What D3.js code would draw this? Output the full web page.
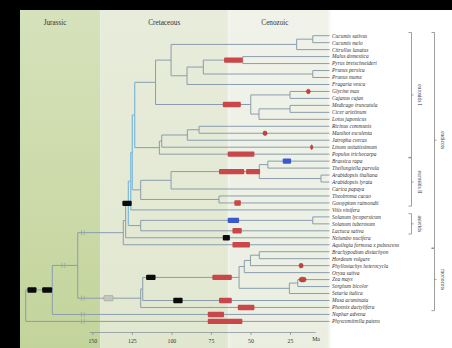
<!DOCTYPE html>
<html><head><meta charset="utf-8">
<script src="https://cdn.jsdelivr.net/npm/d3@7"></script>
<style>body{margin:0;background:#000;}svg{display:block}</style>
</head><body><svg id="c" width="452" height="348"></svg>
<script>
// ---------------- DATA ----------------
const species = ["Cucumis sativus","Cucumis melo","Citrullus lanatus","Malus domestica","Pyrus bretschneideri","Prunus persica","Prunus mume","Fragaria vesca","Glycine max","Cajanus cajan","Medicago truncatula","Cicer arietinum","Lotus japonicus","Ricinus communis","Manihot esculenta","Jatropha curcas","Linum usitatissimum","Populus trichocarpa","Brassica rapa","Thellungiella parvula","Arabidopsis thaliana","Arabidopsis lyrata","Carica papaya","Theobroma cacao","Gossypium raimondii","Vitis vinifera","Solanum lycopersicum","Solanum tuberosum","Lactuca sativa","Nelumbo nucifera","Aquilegia formosa x pubescens","Brachypodium distachyon","Hordeum vulgare","Phyllostachys heterocycla","Oryza sativa","Zea mays","Sorghum bicolor","Setaria italica","Musa acuminata","Phoenix dactylifera","Nuphar advena","Physcomitrella patens"];
const leafParent = ["Cucumis","Cucumis","Cuc","MdPb","MdPb","Prunus","Prunus","Ros","GmCc","GmCc","MtCa","MtCa","MtLj","RcMe","RcMe","Malp3","Malp2","Malp","BrTp","BrTp","AtAl","AtAl","BraCp","TcGr","TcGr","RosVv","Sol","Sol","Ast","EudNn","Eud","BdHv","BdHv","BEP2","BEP","ZmSb","ZmSb","PAC","PoMu","Mono","N1","root"];
// internal nodes: [id, parent, age (Ma)]
const nodes = [
 ["root",null,192.1],["N1","root",175.3],["Angio","N1",159.2],
 ["Eud","Angio",130.4],["EudNn","Eud",128.9],["Core","EudNn",127.2],["RosVv","Core",125.7],["Rosids","RosVv",124.7],
 ["FabMal","Rosids",123.2],["Fabids","FabMal",110],["CucRos","Fabids",100.2],["Cuc","CucRos",20.8],["Cucumis","Cuc",10.6],
 ["Ros","CucRos",90.1],["RosA","Ros",79.8],["MdPb","RosA",54.9],["Prunus","RosA",10.6],
 ["Fab","Fabids",49.8],["GmCc","Fab",25],["MtLj","Fab",44.6],["MtCa","MtLj",25],
 ["Malp","FabMal",107.6],["Malp2","Malp",106.1],["Malp3","Malp2",89.9],["RcMe","Malp3",82.5],
 ["Malv","Rosids",119.4],["BraCp","Malv",100.2],["Bra","BraCp",44.4],["BrTp","Bra",39],["AtAl","Bra",5.4],["TcGr","Malv",69.9],
 ["Ast","Core",119.4],["Sol","Ast",10.6],
 ["Mono","Angio",119.4],["PoMu","Mono",118.1],["Grass","PoMu",57.2],["BEP","Grass",53.9],["BEP2","BEP",50],["BdHv","BEP2",44.4],["PAC","Grass",25.4],["ZmSb","PAC",20.1]
];
// events on branches: [target, fromMa, toMa, kind]
const events = [
 ["MdPb",66.7,54.9,"red"],["Fab",67.5,56.1,"red"],["Populus trichocarpa",64.4,47.5,"red"],
 ["Bra",69.9,53.9,"red"],["Bra",52.8,43.9,"red"],["Gossypium raimondii",60.2,56.1,"red"],
 ["Lactuca sativa",61.4,55.5,"red"],["Aquilegia formosa x pubescens",61.4,50.3,"red"],
 ["Grass",74.1,61.8,"red"],["Musa acuminata",69.9,61.8,"red"],["Phoenix dactylifera",58,47.5,"red"],
 ["Nuphar advena",77,66.7,"red"],["Physcomitrella patens",77,55.1,"red"],
 ["Glycine max",14.6,12.2,"dot"],["Manihot esculenta",42.1,39.5,"dot"],["Linum usitatissimum",12,10.6,"dot"],
 ["Phyllostachys heterocycla",19.3,16.7,"dot"],["Zea mays",19.2,14.8,"dot"],
 ["Brassica rapa",29.6,24.3,"blue"],["Sol",64.4,57.2,"blue"],
 ["Core",131,125.1,"black"],["Nelumbo nucifera",67.5,63,"black"],["Grass",116,110,"black"],
 ["Musa acuminata",98.8,92.9,"black"],["N1",191,185.3,"black"],["N1",181.7,175.4,"black"],
 ["Mono",142.7,136.8,"gray"]
];
const breaks = [["Eud",156],["Mono",156],["Nuphar advena",156],["Physcomitrella patens",156],["Angio",168.3]];
const eras = [["Jurassic",196,145],["Cretaceous",145,64],["Cenozoic",64,0]];
const tickValues = [150,125,100,75,50,25];
const clades = [["eurosids I","Cucumis sativus","Populus trichocarpa",0],["eurosids II","Brassica rapa","Gossypium raimondii",0],
 ["asterids","Solanum lycopersicum","Lactuca sativa",0],["eudicots","Cucumis sativus","Aquilegia formosa x pubescens",1],
 ["monocots","Brachypodium distachyon","Phoenix dactylifera",1]];

// ---------------- SCALES ----------------
const svg = d3.select("#c");
const x = d3.scaleLinear().domain([150,25]).range([92.3,290]);
const y = d3.scalePoint().domain(species).range([35.7,321.4]);

// background
svg.append("rect").attr("x",0).attr("y",0).attr("width",452).attr("height",348).attr("fill","#000");
svg.append("rect").attr("x",20).attr("y",10).attr("width",432).attr("height",338).attr("fill","#fff");
const defs = svg.append("defs");
const gradCols = {Jurassic:["#d6e2bb","#c3d49b"],Cretaceous:["#e8ecdb","#e1e7cf"],Cenozoic:["#f1f3ea","#eaeee0"]};
eras.forEach(e=>{
  const g = defs.append("linearGradient").attr("id","g"+e[0]).attr("x1",0).attr("y1",0).attr("x2",0).attr("y2",1);
  g.append("stop").attr("offset","0").attr("stop-color",gradCols[e[0]][0]);
  g.append("stop").attr("offset","1").attr("stop-color",gradCols[e[0]][1]);
});
const soft = defs.append("filter").attr("id","soft").attr("x","-10%").attr("width","120%");
soft.append("feGaussianBlur").attr("stdDeviation","1.5 0");
svg.append("g").selectAll("rect").data(eras).join("rect")
  .attr("x",d=>Math.max(20,x(d[1]))).attr("y",10)
  .attr("width",d=>x(d[2])-Math.max(20,x(d[1]))).attr("height",338)
  .attr("fill",d=>"url(#g"+d[0]+")")
  .attr("filter",d=>d[0]==="Cenozoic"?"url(#soft)":null);
svg.append("g").selectAll("text").data(eras).join("text")
  .attr("x",d=>(Math.max(20,x(d[1]))+x(d[2]))/2 + (d[0]==="Jurassic"?-5:(d[0]==="Cenozoic"?-4:0))).attr("y",25)
  .attr("text-anchor","middle").attr("font-family","Liberation Serif, serif").attr("font-size",7.2)
  .attr("fill","#333").text(d=>d[0]);

// ---------------- TREE LAYOUT ----------------
const info = {};
nodes.forEach(n=>info[n[0]]={id:n[0],parent:n[1],age:n[2],children:[]});
species.forEach((s,i)=>{info[s]={id:s,parent:leafParent[i],age:0,children:[],leaf:true,y:y(s)};});
Object.values(info).forEach(n=>{ if(n.parent) info[n.parent].children.push(n); });
function setY(n){ if(n.leaf) return n.y; const ys=n.children.map(setY); n.ymin=d3.min(ys); n.ymax=d3.max(ys); n.y=(n.ymin+n.ymax)/2; return n.y; }
setY(info.root);
const all = Object.values(info);
const lineCol = "#8a9dae";
const blueish = new Set(["FabMal","Rosids","RosVv","Core"]);
const tree = svg.append("g").attr("fill","none").attr("stroke-width",1);
tree.selectAll("line.h").data(all.filter(n=>n.parent)).join("line").attr("class","h")
  .attr("x1",n=>x(info[n.parent].age)).attr("x2",n=>x(n.age)).attr("y1",n=>n.y).attr("y2",n=>n.y).attr("stroke",lineCol);
tree.selectAll("line.v").data(all.filter(n=>!n.leaf)).join("line").attr("class","v")
  .attr("x1",n=>x(n.age)).attr("x2",n=>x(n.age)).attr("y1",n=>n.ymin).attr("y2",n=>n.ymax)
  .attr("stroke",n=>blueish.has(n.id)?"#86bcd9":lineCol).attr("stroke-width",n=>blueish.has(n.id)?1.3:1);

// events
const evCol = {red:"#c9474a",dot:"#c6423f",blue:"#3a58d0",black:"#0b0b0b",gray:"#c4c6bc"};
svg.append("g").selectAll("rect").data(events).join("rect")
  .attr("x",d=>x(d[1])).attr("width",d=>x(d[2])-x(d[1]))
  .attr("y",d=>info[d[0]].y-(d[3]==="dot"?2.3:2.7)).attr("height",d=>d[3]==="dot"?4.6:5.4)
  .attr("rx",d=>d[3]==="dot"?2.3:1).attr("fill",d=>evCol[d[3]])
  .attr("stroke",d=>d[3]==="gray"?"#999":(d[3]==="dot"?"#9e2c2c":"none")).attr("stroke-width",0.5);
// break marks
const bk = svg.append("g").attr("stroke","#9aa0a8").attr("stroke-width",0.7);
breaks.forEach(b=>{
  const cx=x(b[1]), cy=info[b[0]].y;
  [-1.4,1.4].forEach(o=>bk.append("line").attr("x1",cx+o).attr("x2",cx+o).attr("y1",cy-2.6).attr("y2",cy+2.6));
});

// species labels
svg.append("g").selectAll("text").data(species).join("text")
  .attr("x",332).attr("y",d=>y(d)).attr("dy","0.35em")
  .attr("font-family","Liberation Serif, serif").attr("font-style","italic").attr("font-size",5.4)
  .attr("fill","#333").text(d=>d);

// clade brackets
const br = svg.append("g");
clades.forEach(c=>{
  const y0=y(c[1])-3.2, y1=y(c[2])+3.2, bx = c[3]? 434.5 : 411.5, ym=(y0+y1)/2;
  br.append("path").attr("d",`M${bx-3},${y0}H${bx}V${y1}H${bx-3}M${bx},${ym}h2`)
    .attr("fill","none").attr("stroke","#777").attr("stroke-width",0.7);
  br.append("text").attr("transform",`translate(${bx+6.5},${ym}) rotate(90)`)
    .attr("text-anchor","middle").attr("font-family","Liberation Serif, serif").attr("font-size",5.4)
    .attr("fill","#333").text(c[0]);
});

// axis
const xa = x.copy().domain([152,9]).range([x(152),x(9)]);
const ax = svg.append("g").attr("transform","translate(0,332)")
  .call(d3.axisBottom(xa).tickValues(tickValues).tickSize(3).tickSizeOuter(0));
ax.selectAll("path,line").attr("stroke","#7f8a95").attr("stroke-width",0.7);
ax.selectAll("text").attr("font-family","Liberation Serif, serif").attr("font-size",5.8).attr("fill","#333").attr("dy","0.9em");
svg.append("text").attr("x",316).attr("y",341.3).attr("text-anchor","middle")
  .attr("font-family","Liberation Serif, serif").attr("font-size",5.8).attr("fill","#333").text("Ma");
</script></body></html>
